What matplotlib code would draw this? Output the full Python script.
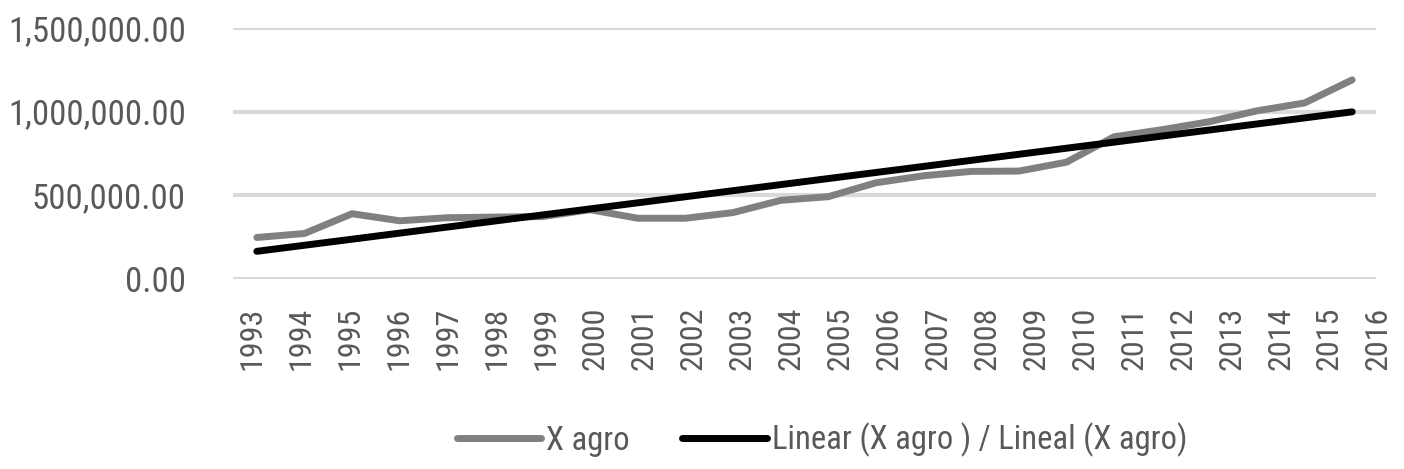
import numpy as np
import matplotlib.pyplot as plt
from matplotlib.ticker import FuncFormatter
from matplotlib.lines import Line2D

# Datos
years = [str(y) for y in range(1993, 2017)]
x_agro = [248000, 272000, 390000, 348000, 366000, 370000, 373000, 414000,
          363000, 363000, 397000, 470000, 492000, 575000, 617000, 643000,
          645000, 698000, 850000, 892000, 940000, 1005000, 1052000, 1190000]

GRAY = '#808080'
TXT = '#595959'
GRID = '#d9d9d9'

plt.rcParams['font.family'] = ['Roboto Condensed', 'Liberation Sans', 'DejaVu Sans']

fig = plt.figure(figsize=(14.04, 4.69), dpi=100)
ax = fig.add_axes([233 / 1404, 1 - 279 / 469, (1376 - 233) / 1404, (279 - 28) / 469])

x = np.arange(len(x_agro))
coef = np.polyfit(x, x_agro, 1)
trend = np.polyval(coef, x)

ax.plot(x, x_agro, color=GRAY, lw=5, solid_capstyle='round', solid_joinstyle='round', zorder=3)
ax.plot(x, trend, color='black', lw=5, solid_capstyle='round', zorder=4)

ax.set_xlim(-0.5, len(years) - 0.5)
ax.set_ylim(0, 1500000)
ax.set_yticks([0, 500000, 1000000, 1500000])
ax.yaxis.set_major_formatter(FuncFormatter(lambda v, p: f'{v:,.2f}'))
ax.grid(axis='y', color=GRID, lw=3)
ax.set_axisbelow(True)
ax.tick_params(axis='y', length=0, pad=34, labelsize=25, labelcolor=TXT)
ax.set_xticks([])
for s in ax.spines.values():
    s.set_visible(False)

# etiquetas del eje x (rotadas, como en el original)
step = 49.0 / 47.65
for i, yr in enumerate(years):
    ax.text(-0.1 + i * step, -0.11, yr, transform=ax.get_xaxis_transform(),
            rotation=90, ha='center', va='top', fontsize=23, color=TXT, clip_on=False)

handles = [Line2D([0], [0], color=GRAY, lw=5, solid_capstyle='round'),
           Line2D([0], [0], color='black', lw=5, solid_capstyle='round')]
fig.legend(handles, ['X agro', 'Linear (X agro ) / Lineal (X agro)'],
           loc='center', bbox_to_anchor=(822 / 1404, 1 - 440 / 469), ncol=2,
           frameon=False, fontsize=23.5, labelcolor=TXT, handlelength=2.6,
           handletextpad=0.15, columnspacing=1.6)

fig.savefig('out.png', dpi=100)
